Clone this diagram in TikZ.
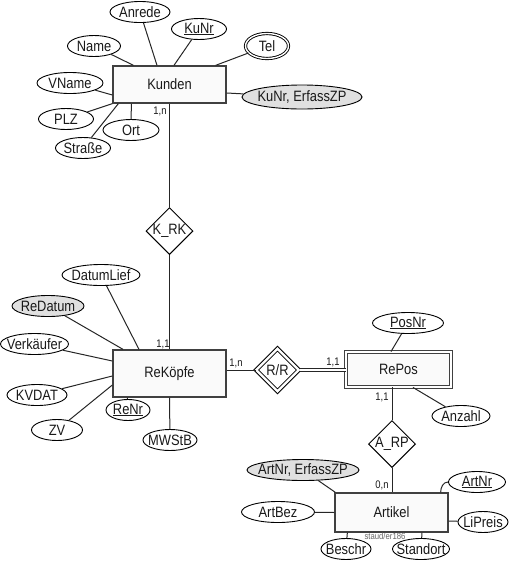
\documentclass[tikz,border=0pt]{standalone}
\usepackage{fontspec}
\setmainfont{Liberation Sans}[FakeStretch=0.86]
\usetikzlibrary{shapes}

\begin{document}
\begin{tikzpicture}[
    x=1pt, y=-1pt,
    font=\fontsize{15}{17}\selectfont,
    every node/.style={text=black!90},
    entity/.style={rectangle, draw=black!75, fill=black!2, line width=1.3pt, minimum width=113pt, inner sep=0pt},
    weak/.style={rectangle, draw=black!75, fill=black!2, line width=0.9pt, double, double distance=2pt, minimum width=105pt, minimum height=35pt, inner sep=0pt},
    attr/.style={ellipse, draw=black, fill=white, line width=0.9pt, minimum height=21pt, inner xsep=-8pt, inner ysep=0pt},
    derived/.style={attr, fill=black!12},
    multi/.style={attr, double, double distance=1.4pt},
    rel/.style={diamond, aspect=1, draw=black, fill=white, line width=1pt, minimum size=47pt, inner sep=0pt},
    weakrel/.style={rel, double, double distance=2.2pt, minimum size=43pt},
    card/.style={font=\fontsize{11}{13}\selectfont, inner sep=0pt},
    link/.style={draw=black!85, line width=1pt}
]
\useasboundingbox (0,0) rectangle (515,574);

% Kunden
\node[entity, minimum height=37pt] (kunden) at (169.5,84.5) {Kunden};
\node[attr, minimum width=60pt] (anrede) at (140,12) {Anrede};
\node[attr, minimum width=55pt] (kunr) at (199,29) {\underline{KuNr}};
\node[attr, minimum width=53pt] (name) at (94,46) {Name};
\node[multi, minimum width=43pt, minimum height=25pt] (tel) at (267,46) {Tel};
\node[attr, minimum width=66pt] (vname) at (70,83) {VName};
\node[derived, minimum width=120pt, minimum height=24pt] (kuerfzp) at (302,97) {KuNr, ErfassZP};
\node[attr, minimum width=55pt] (plz) at (66,119) {PLZ};
\node[attr, minimum width=56pt] (ort) at (131,130) {Ort};
\node[attr, minimum width=55pt] (strasse) at (83,148) {Straße};
\node[card] (cardku) at (160,111) {1,n};

\draw[link] (anrede) -- ([xshift=-12.5pt]kunden.north);
\draw[link] (kunr) -- ([xshift=4.5pt]kunden.north);
\draw[link] (name) -- ([xshift=-36pt]kunden.north);
\draw[link] (tel) -- ([xshift=-11pt]kunden.north east);
\draw[link] (vname) -- ([yshift=-10.5pt]kunden.west);
\draw[link] (kuerfzp) -- ([yshift=-8.5pt]kunden.east);
\draw[link] (plz) -- (kunden.south west);
\draw[link] (strasse) -- ([xshift=6pt]kunden.south west);
\draw[link] (ort) -- ([xshift=19pt]kunden.south west);

% ReKoepfe
\node[entity, minimum height=47pt] (rekoepfe) at (169.5,373.5) {ReKöpfe};
\node[attr, minimum width=78pt] (datumlief) at (101,275) {DatumLief};
\node[derived, minimum width=72pt] (redatum) at (48,306) {ReDatum};
\node[attr, minimum width=68pt] (verkaeufer) at (34.5,344) {Verkäufer};
\node[attr, minimum width=60pt] (kvdat) at (37,395) {KVDAT};
\node[attr, minimum width=51pt] (zv) at (57,430) {ZV};
\node[attr, minimum width=44pt] (renr) at (128,410) {\underline{ReNr}};
\node[attr, minimum width=54pt] (mwstb) at (170,440) {MWStB};
\node[card] (cardrk) at (163,344) {1,1};
\node[card] (cardrr) at (236,363) {1,n};

\draw[link] (datumlief) -- ([xshift=-30.5pt]rekoepfe.north);
\draw[link] (redatum) -- ([xshift=-46.5pt]rekoepfe.north);
\draw[link] (verkaeufer) -- ([yshift=12.5pt]rekoepfe.west);
\draw[link] (kvdat) -- ([yshift=-2.5pt]rekoepfe.west);
\draw[link] (zv) -- ([yshift=-11.5pt]rekoepfe.west);
\draw[link] (renr) -- ([xshift=15pt]rekoepfe.south west);
\draw[link] (mwstb) -- (rekoepfe.south);

% K_RK
\node[rel] (krk) at (169.5,231) {K\_RK};
\draw[link] (kunden.south) -- (krk.north);
\draw[link] (krk.south) -- (rekoepfe.north);

% R/R und RePos
\node[weakrel] (rr) at (277.5,370) {R/R};
\node[weak] (repos) at (398.5,369.5) {RePos};
\node[attr, minimum width=71pt] (posnr) at (408,323) {\underline{PosNr}};
\node[attr, minimum width=58pt] (anzahl) at (461,416) {Anzahl};
\node[card] (cardrp) at (333,362) {1,1};
\node[card] (cardpa) at (382,397) {1,1};

\draw[link] (rekoepfe.east |- rr.west) -- (rr.west);
\draw[link, double, double distance=2pt] (rr.east) -- (repos.west |- rr.east);
\draw[link] (posnr) -- ([xshift=-7.5pt]repos.north);
\draw[link] (anzahl) -- ([xshift=14.5pt]repos.south);

% A_RP und Artikel
\node[rel] (arp) at (392,444) {A\_RP};
\node[entity, minimum height=39pt] (artikel) at (391.5,512.5) {Artikel};
\node[derived, minimum width=112pt] (arterfzp) at (303,470) {ArtNr, ErfassZP};
\node[attr, minimum width=57pt] (artnr) at (477,482) {\underline{ArtNr}};
\node[attr, minimum width=73pt] (artbez) at (278,512) {ArtBez};
\node[attr, minimum width=50pt] (lipreis) at (483,522) {LiPreis};
\node[attr, minimum width=50pt] (beschr) at (346,549) {Beschr};
\node[attr, minimum width=57pt] (standort) at (421,549) {Standort};
\node[card] (cardra) at (382,485) {0,n};
\node[font=\fontsize{9}{10}\selectfont, text=black!60, inner sep=0.5pt] (quelle) at (385,536) {staud/er186};

\draw[link] (repos.south -| arp.north) -- (arp.north);
\draw[link] (arp.south) -- (artikel.north -| arp.south);
\draw[link] (arterfzp) -- ([xshift=1pt]artikel.north west);
\draw[link] ([xshift=-8pt]artikel.north east) to[out=90, in=180] (artnr.west);
\draw[link] (artbez) -- (artikel.west);
\draw[link] (lipreis) -- ([yshift=-8.5pt]artikel.east);
\draw[link] (beschr) -- ([xshift=13pt]artikel.south west);
\draw[link] (standort) -- ([xshift=30.5pt]artikel.south);
\end{tikzpicture}
\end{document}
